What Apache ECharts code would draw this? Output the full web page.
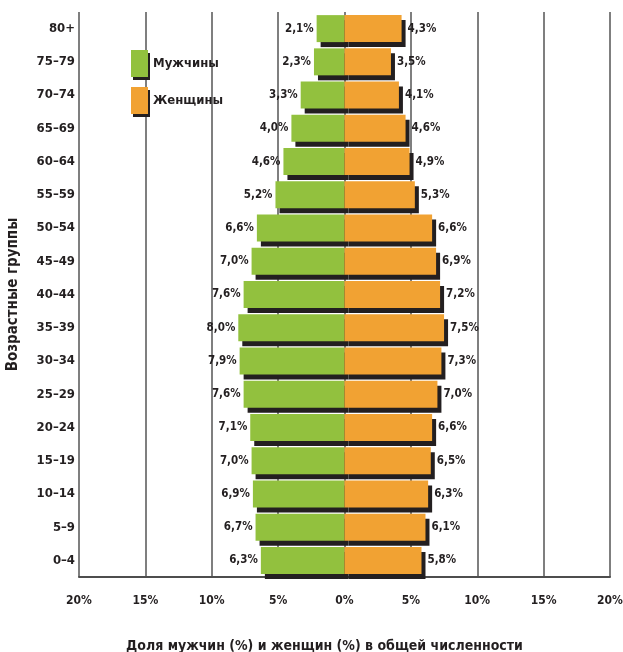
<!DOCTYPE html>
<html>
<head>
<meta charset="utf-8">
<script src="https://cdn.jsdelivr.net/npm/echarts@6/dist/echarts.min.js"></script>
<style>
html,body{margin:0;padding:0;background:#fff;}
#chart{width:623px;height:652px;}
</style>
</head>
<body>
<div id="chart"></div>
<script>
// Age groups, bottom to top
var ageGroups = ['0–4','5–9','10–14','15–19','20–24','25–29','30–34','35–39','40–44','45–49','50–54','55–59','60–64','65–69','70–74','75–79','80+'];
// Share of men (%) per age group, bottom to top
var menShare = [6.3, 6.7, 6.9, 7.0, 7.1, 7.6, 7.9, 8.0, 7.6, 7.0, 6.6, 5.2, 4.6, 4.0, 3.3, 2.3, 2.1];
// Share of women (%) per age group, bottom to top
var womenShare = [5.8, 6.1, 6.3, 6.5, 6.6, 7.0, 7.3, 7.5, 7.2, 6.9, 6.6, 5.3, 4.9, 4.6, 4.1, 3.5, 4.3];
// X tick values
var xTicks = [-20, -15, -10, -5, 0, 5, 10, 15, 20];
var seriesNames = ['Мужчины', 'Женщины'];

var FONT = '"Liberation Sans Narrow", "DejaVu Sans Condensed", "Liberation Sans", sans-serif';
function fmt(v){ return Math.abs(v).toFixed(1).replace('.', ',') + '%'; }

var chart = echarts.init(document.getElementById('chart'), null, {renderer:'canvas'});
var shadow = {shadowColor:'#231f20', shadowBlur:0, shadowOffsetX:4, shadowOffsetY:5};
chart.setOption({
  animation:false,
  backgroundColor:'#ffffff',
  grid:{left:79, right:13, top:12, bottom:75, containLabel:false, outerBoundsMode:'none'},
  legend:{
    orient:'vertical', left:126, top:45, itemWidth:17, itemHeight:27, itemGap:10,
    icon:'rect',
    data:seriesNames,
    textStyle:{fontFamily:FONT, fontWeight:'bold', fontSize:13, color:'#231f20'},
    itemStyle:{shadowColor:'#231f20', shadowBlur:0, shadowOffsetX:2, shadowOffsetY:3}
  },
  xAxis:{
    type:'value', min:xTicks[0], max:xTicks[xTicks.length-1], interval:5,
    axisLine:{show:true, lineStyle:{color:'#4d4d4d', width:2}},
    axisTick:{show:false},
    splitLine:{show:true, lineStyle:{color:'#7f7f7f', width:2}},
    axisLabel:{margin:18, fontFamily:FONT, fontWeight:'bold', fontSize:12, color:'#231f20',
      formatter:function(v){ return Math.abs(v) + '%'; }},
    name:'Доля мужчин (%) и женщин (%) в общей численности',
    nameLocation:'middle', nameGap:62,
    nameTextStyle:{fontFamily:FONT, fontWeight:'bold', fontSize:14, color:'#231f20', padding:[0,40,0,0]}
  },
  yAxis:{
    type:'category', data:ageGroups,
    axisLine:{show:false}, axisTick:{show:false},
    axisLabel:{margin:4, fontFamily:FONT, fontWeight:'bold', fontSize:13, color:'#231f20'},
    name:'Возрастные группы', nameLocation:'middle', nameGap:58, nameRotate:90,
    nameTextStyle:{fontFamily:FONT, fontWeight:'bold', fontSize:15, color:'#231f20'}
  },
  series:[
    {
      name:seriesNames[0], type:'bar', stack:'pop', barWidth:27,
      data:menShare.map(function(v){return -v;}),
      itemStyle:Object.assign({color:'#92c13e'}, shadow),
      label:{show:true, position:'left', distance:3, fontFamily:FONT, fontWeight:'bold', fontSize:11.5, color:'#231f20',
        formatter:function(p){return fmt(p.value);}}
    },
    {
      name:seriesNames[1], type:'bar', stack:'pop', barWidth:27,
      data:womenShare,
      itemStyle:Object.assign({color:'#f1a233'}, shadow),
      label:{show:true, position:'right', distance:6, fontFamily:FONT, fontWeight:'bold', fontSize:11.5, color:'#231f20',
        formatter:function(p){return fmt(p.value);}}
    }
  ]
});
</script>
</body>
</html>
